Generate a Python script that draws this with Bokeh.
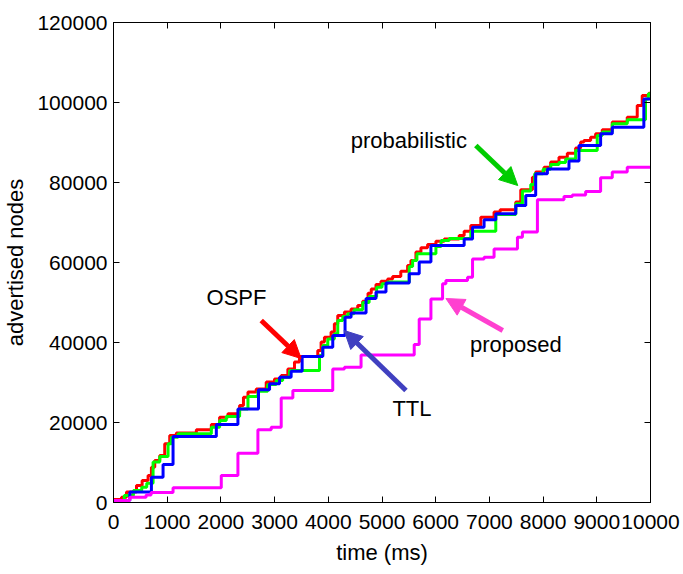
from bokeh.plotting import figure
from bokeh.models import (LinearAxis, Range1d, Arrow, NormalHead, Label, FixedTicker,
                          BasicTickFormatter, CustomJSTickFormatter)
from bokeh.embed import file_html
from bokeh.resources import INLINE

# ---- data (time in ms, advertised nodes in thousands) ----
ospf_t = [0, 149, 242, 428, 533, 644, 706, 768, 861, 954, 1047, 1171, 1543, 1822, 1976, 2131,
          2348, 2420, 2504, 2658, 2844, 2998, 3123, 3247, 3370, 3463, 3804, 3866, 3928, 4052,
          4113, 4176, 4300, 4424, 4548, 4641, 4740, 4800, 4888, 4981, 5105, 5198, 5350, 5477,
          5539, 5632, 5725, 5849, 6004, 6159, 6437, 6530, 6654, 6840, 7087, 7200, 7491, 7584,
          7801, 7862, 8017, 8141, 8296, 8451, 8606, 8699, 8760, 8885, 8978, 9102, 9288, 9567,
          9753, 9846, 9969, 10000]
ospf_k = [0.75, 1.3, 2.6, 4.25, 5.5, 6.75, 8.8, 10.5, 11.75, 14.7, 16.75, 17.4, 18.2, 19.5, 21.3, 22.2,
          24.25, 26.3, 27.6, 28.4, 30.1, 30.9, 31.75, 33.4, 35.1, 36.5, 38.0, 40.1, 41.3, 42.6,
          44.7, 46.75, 47.6, 48.4, 49.25, 50.3, 52.3, 53.4, 54.5, 55.3, 55.9, 56.5, 57.8, 59.25,
          60.5, 62.6, 63.7, 64.5, 65.3, 65.9, 66.75, 67.8, 69.25, 71.3, 72.6, 73.2, 75.1, 78.2,
          81.3, 82.6, 83.8, 85.1, 86.3, 87.3, 88.6, 90.1, 90.5, 91.3, 92.2, 93.2, 95.1, 96.3,
          99.25, 101.75, 102.3, 102.3]

prob_t = [0, 200, 371, 526, 619, 737, 861, 1016, 1078, 1202, 1822, 1976, 2100, 2348, 2504, 2690,
          2870, 3030, 3150, 3280, 3836, 3897, 3990, 4113, 4176, 4270, 4360, 4480, 4641, 4760,
          4900, 5000, 5105, 5507, 5570, 5650, 6004, 6100, 6250, 6654, 7119, 7491, 7615, 7770,
          7843, 8000, 8141, 8296, 8420, 8606, 9008, 9102, 9288, 9567, 9907, 9960, 10000]
prob_k = [0.5, 1.75, 3.0, 3.8, 4.8, 10.1, 11.5, 14.7, 16.3, 17.2, 18.8, 20.5, 21.5, 23.4, 26.5, 27.8,
          29.5, 30.5, 31.3, 33.0, 36.75, 39.25, 40.9, 42.2, 45.5, 46.5, 47.2, 48.2, 50.0, 51.5,
          53.8, 54.7, 55.1, 59.0, 60.5, 62.2, 64.0, 65.5, 66.0, 67.8, 72.0, 74.7, 77.9, 79.5,
          82.2, 83.3, 84.5, 85.0, 85.9, 88.0, 91.75, 92.6, 94.7, 95.7, 100.9, 102.2, 102.2]

ttl_t = [0, 304, 706, 923, 1109, 1915, 2317, 2700, 2906, 3092, 3308, 3513, 3897, 4083, 4312, 4424,
         4703, 4888, 5074, 5507, 5693, 5911, 6530, 6686, 6901, 7119, 7491, 7677, 7862, 8080, 8482,
         8668, 9071, 9288, 9876, 10000]
ttl_k = [0.5, 2.6, 6.3, 9.5, 16.5, 19.5, 23.4, 28.2, 29.7, 31.3, 32.8, 36.5, 38.8, 41.75, 46.3, 47.4,
         51.0, 52.6, 54.9, 57.2, 60.1, 64.25, 65.9, 68.8, 70.7, 72.2, 74.25, 76.75, 82.2, 83.4, 85.4,
         89.25, 92.2, 93.8, 100.9, 100.9]

prop_t = [0, 304, 607, 700, 1109, 2007, 2317, 2689, 2937, 3123, 3340, 4083, 4300, 4610, 5600, 5693,
          5911, 6128, 6190, 6593, 6686, 6901, 7087, 7522, 7615, 7894, 8389, 8544, 8792, 9071, 9288,
          9567, 10000]
prop_k = [0.5, 1.3, 1.9, 2.5, 3.7, 6.75, 12.3, 18.2, 18.8, 26.1, 28.0, 33.4, 33.8, 36.9, 39.5, 45.9,
          50.9, 54.7, 55.5, 56.3, 60.9, 61.3, 63.4, 66.3, 67.6, 75.7, 76.5, 76.9, 77.75, 81.2, 82.6,
          83.8, 83.8]

x_ticks = [0, 1000, 2000, 3000, 4000, 5000, 6000, 7000, 8000, 9000, 10000]
y_ticks = [0, 20000, 40000, 60000, 80000, 100000, 120000]

FONT = "Liberation Sans"
TICK_SIZE = "21px"
TEXT_SIZE = "22px"

p = figure(width=683, height=574, output_backend="svg", toolbar_location=None,
           x_range=Range1d(0, 10000), y_range=Range1d(0, 120000),
           min_border_left=112, min_border_right=33, min_border_top=22, min_border_bottom=72)
p.background_fill_color = "white"
p.border_fill_color = "white"
p.outline_line_color = "black"
p.outline_line_width = 1
p.xgrid.visible = False
p.ygrid.visible = False


def k(vals):
    return [v * 1000 for v in vals]


p.step(ospf_t, k(ospf_k), mode="after", line_color="#ff0000", line_width=3)
p.step(prob_t, k(prob_k), mode="after", line_color="#00ff00", line_width=3)
p.step(ttl_t, k(ttl_k), mode="after", line_color="#0000ff", line_width=3)
p.step(prop_t, k(prop_k), mode="after", line_color="#ff00ff", line_width=3)

# axes styling
for ax in (p.xaxis[0], p.yaxis[0]):
    ax.major_tick_in = 6
    ax.major_tick_out = 0
    ax.minor_tick_in = 0
    ax.minor_tick_out = 0
    ax.major_label_text_font = FONT
    ax.major_label_text_font_size = TICK_SIZE
    ax.major_label_text_color = "black"
    ax.axis_label_text_font = FONT
    ax.axis_label_text_font_size = TEXT_SIZE
    ax.axis_label_text_font_style = "normal"
    ax.axis_label_text_color = "black"
    ax.axis_line_color = "black"
    ax.major_tick_line_color = "black"
    ax.formatter = BasicTickFormatter(use_scientific=False)

p.xaxis[0].ticker = FixedTicker(ticks=x_ticks)
p.yaxis[0].ticker = FixedTicker(ticks=y_ticks)
p.xaxis[0].axis_label = "time (ms)"
p.yaxis[0].axis_label = "advertised nodes"
p.xaxis[0].major_label_standoff = 12
p.yaxis[0].major_label_standoff = 6
p.xaxis[0].axis_label_standoff = 8
p.yaxis[0].axis_label_standoff = 6

blank = CustomJSTickFormatter(code="return ''")
top = LinearAxis(ticker=FixedTicker(ticks=x_ticks), formatter=blank,
                 major_tick_in=6, major_tick_out=0, minor_tick_in=0, minor_tick_out=0,
                 major_label_standoff=0)
right = LinearAxis(ticker=FixedTicker(ticks=y_ticks), formatter=blank,
                   major_tick_in=6, major_tick_out=0, minor_tick_in=0, minor_tick_out=0,
                   major_label_standoff=0)
p.add_layout(top, "above")
p.add_layout(right, "right")

# annotations
def arrow(x0, y0, x1, y1, color):
    p.add_layout(Arrow(end=NormalHead(size=18, fill_color=color, line_color=color),
                       x_start=x0, y_start=y0, x_end=x1, y_end=y1,
                       line_color=color, line_width=5))


def label(x, y, txt):
    p.add_layout(Label(x=x, y=y, text=txt, text_font=FONT, text_font_size=TEXT_SIZE,
                       text_color="black", text_align="center", text_baseline="middle"))


arrow(2751, 45500, 3494, 36000, "#ff0000")
label(2290, 51250, "OSPF")
arrow(5446, 28000, 4294, 43000, "#4040c0")
label(5558, 23500, "TTL")
arrow(6747, 89250, 7528, 79250, "#00cc00")
label(5500, 90500, "probabilistic")
arrow(7249, 43000, 6190, 51000, "#ff40d0")
label(7491, 39500, "proposed")

open("out.html", "w").write(file_html(p, INLINE))
